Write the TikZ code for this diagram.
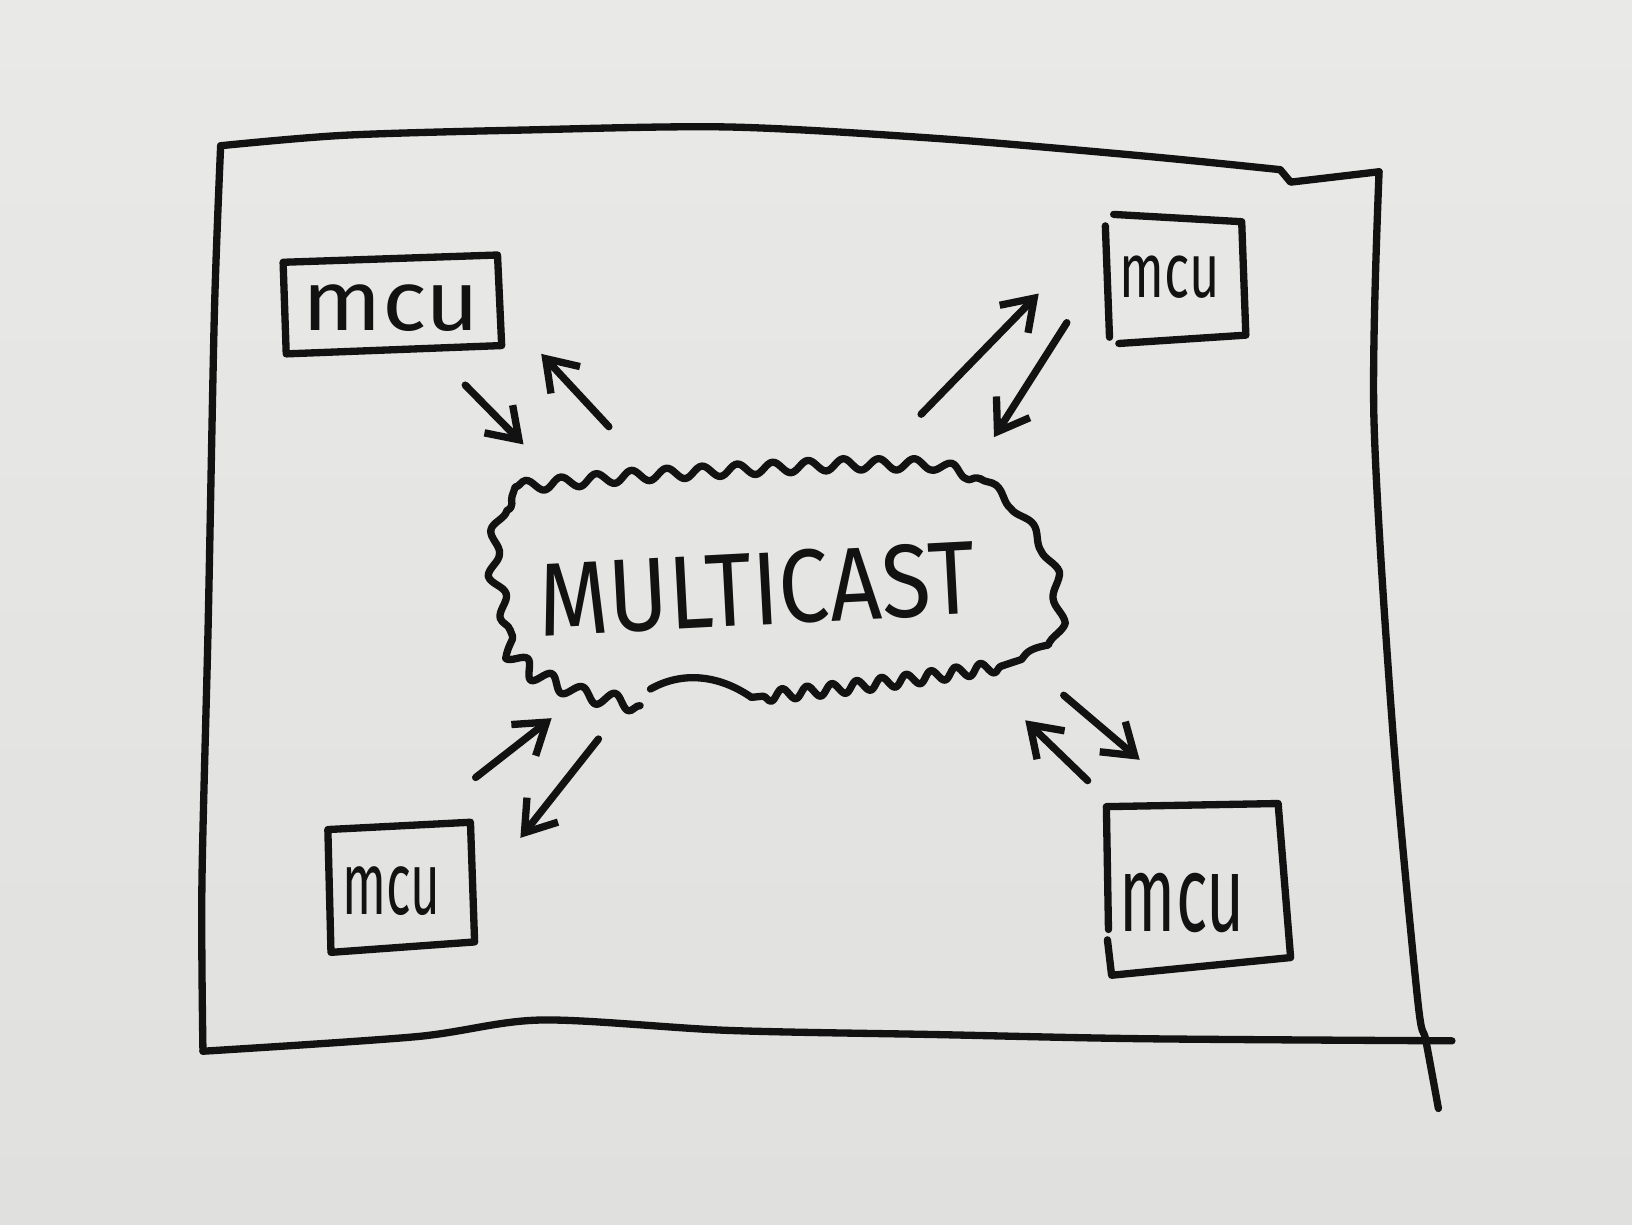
\documentclass[tikz,border=0pt]{standalone}
\usepackage{fontspec}
\setmainfont{Fira Sans}
\usetikzlibrary{arrows.meta,decorations.pathmorphing}
\definecolor{paper}{RGB}{224,225,222}
\definecolor{papertop}{RGB}{233,233,231}
\definecolor{ink}{RGB}{18,18,18}
\begin{document}
\begin{tikzpicture}[x=0.1mm,y=-0.1mm,
  inkline/.style={draw=ink, line width=2pt, line cap=round, line join=round},
  arr/.style={inkline, -{Straight Barb[length=2.8mm,width=3.8mm]}},
  lbl/.style={inner sep=0pt, text=ink},
  wavy/.style={inkline, decorate, decoration={snake, amplitude=#1}}]
\shade[top color=papertop, bottom color=paper] (0,0) rectangle (1568,1176);
\useasboundingbox (0,0) rectangle (1568,1176);

% outer frame
\draw[inkline] plot[smooth] coordinates {(1230,163) (1100,150) (900,133) (700,122) (500,125) (330,130) (212,140)};
\draw[inkline] (1230,163) -- (1240,175) -- (1325,165);
\draw[inkline] plot[smooth] coordinates {(212,140) (206,300) (200,600) (194,850) (195,1010)};
\draw[inkline] plot[smooth] coordinates {(195,1010) (400,996) (520,980) (700,990) (900,994) (1100,998) (1395,1000)};
\draw[inkline] plot[smooth] coordinates {(1325,165) (1320,400) (1338,700) (1362,960) (1370,1000) (1382,1065)};

% MCU boxes
\draw[inkline] (272,252) -- (478,245) -- (482,332) -- (275,340) -- cycle;
\node[lbl] (mcuTL) at (376,296) {\resizebox{17mm}{4.4mm}{mcu}};

\draw[inkline] (1070,206) -- (1193,213) -- (1197,322) -- (1075,330);
\draw[inkline] (1062,217) -- (1066,324);
\node[lbl] (mcuTR) at (1124,266) {\resizebox{9.6mm}{4mm}{mcu}};

\draw[inkline] (315,797) -- (452,790) -- (456,905) -- (318,915) -- cycle;
\node[lbl] (mcuBL) at (376,856) {\resizebox{9.4mm}{4.6mm}{mcu}};

\draw[inkline] (1065,893) -- (1063,775) -- (1228,772) -- (1240,920) -- (1068,937) -- (1064,903);
\node[lbl] (mcuBR) at (1136,868) {\resizebox{12mm}{5.6mm}{mcu}};

% cloud
\draw[wavy=0.55mm, decoration={segment length=3.4mm}]
  (495,468) -- (600,458) -- (700,452) -- (800,447) -- (890,447) -- (942,460);
\draw[wavy=0.45mm, decoration={segment length=5mm}]
  (942,460) -- (970,482) -- (990,510) -- (1006,550) -- (1010,585) -- (1000,615) -- (985,630) -- (962,640);
\draw[wavy=0.55mm, decoration={segment length=2.4mm}]
  (962,640) -- (880,652) -- (800,662) -- (722,670);
\draw[inkline] (722,670) .. controls (690,648) and (655,645) .. (625,662);
\draw[wavy=0.7mm, decoration={segment length=3.2mm}]
  (615,678) -- (560,667) -- (525,652) -- (500,630) -- (490,605);
\draw[wavy=0.6mm, decoration={segment length=4.2mm}]
  (490,605) -- (480,570) -- (478,535) -- (484,500) -- (495,468);
\node[lbl, rotate=3] (mcast) at (727,566) {\resizebox{42mm}{7mm}{MULTICAST}};

% arrows
\coordinate (a1s) at (447,370); \coordinate (a1e) at (503,427);
\coordinate (a2s) at (585,410); \coordinate (a2e) at (520,340);
\coordinate (b1s) at (885,398); \coordinate (b1e) at (998,282);
\coordinate (b2s) at (1025,310); \coordinate (b2e) at (955,420);
\coordinate (c1s) at (457,747); \coordinate (c1e) at (530,690);
\coordinate (c2s) at (575,710); \coordinate (c2e) at (500,805);
\coordinate (d1s) at (1045,750); \coordinate (d1e) at (985,692);
\coordinate (d2s) at (1022,668); \coordinate (d2e) at (1095,730);
\draw[arr] (a1s) -- (a1e);
\draw[arr] (a2s) -- (a2e);
\draw[arr] (b1s) -- (b1e);
\draw[arr] (b2s) -- (b2e);
\draw[arr] (c1s) -- (c1e);
\draw[arr] (c2s) -- (c2e);
\draw[arr] (d1s) -- (d1e);
\draw[arr] (d2s) -- (d2e);
\end{tikzpicture}
\end{document}
